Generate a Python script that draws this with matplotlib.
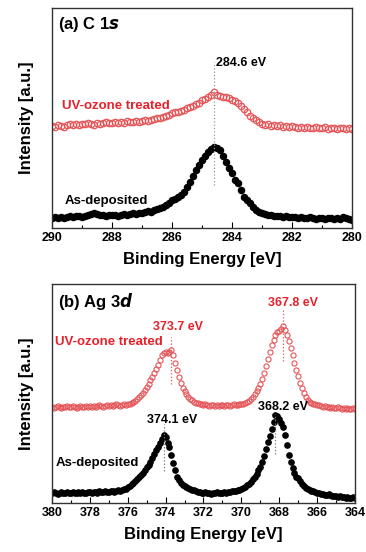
import numpy as np
import matplotlib.pyplot as plt
from matplotlib.ticker import MultipleLocator

plt.rcParams['font.family'] = ['Liberation Sans', 'DejaVu Sans']
plt.rcParams['font.weight'] = 'bold'

# (a) C 1s, binding energy 290.0 -> 280.0 eV, step 0.1
c1s_energy = np.round(np.arange(290.0, 279.95, -0.1), 1)
c1s_uv = [102, 101, 103, 102, 101, 103, 104, 103, 104, 103, 104,
          104, 105, 104, 103, 105, 104, 105, 106, 105, 105,
          106, 105, 106, 105, 107, 106, 106, 107, 106, 107,
          108, 107, 108, 109, 110, 110, 111, 112, 113, 115,
          116, 116, 117, 118, 120, 121, 122, 124, 125, 128,
          129, 131, 133, 136, 133, 132, 131, 131, 130, 128,
          127, 125, 122, 119, 116, 112, 110, 108, 106, 104,
          103, 104, 102, 103, 102, 103, 101, 102, 101, 102,
          101, 100, 101, 100, 101, 100, 100, 101, 100, 100,
          101, 99, 100, 100, 99, 100, 100, 99, 100, 99]
c1s_asdep = [10, 11, 10, 11, 10, 11, 12, 11, 12, 12, 11,
             12, 13, 14, 15, 14, 13, 13, 12, 13, 13,
             13, 12, 13, 14, 13, 14, 15, 14, 15, 15,
             16, 17, 16, 18, 19, 20, 21, 23, 25, 28,
             29, 31, 33, 36, 41, 46, 52, 58, 63, 68,
             72, 76, 79, 81, 80, 78, 72, 66, 60, 55,
             48, 45, 38, 31, 28, 25, 21, 18, 16, 15,
             14, 13, 13, 12, 12, 12, 11, 12, 11, 11,
             11, 10, 11, 10, 10, 11, 10, 9, 10, 10,
             9, 10, 10, 9, 10, 9, 11, 10, 9, 8]

# (b) Ag 3d, binding energy 380.0 -> 364.0 eV, step 0.1
ag_energy = np.round(np.arange(380.0, 363.95, -0.1), 1)
ag_uv = [96, 95, 96, 97, 96, 95, 96, 96, 97, 96,
         96, 97, 96, 95, 96, 97, 96, 96, 97, 96,
         97, 96, 97, 96, 97, 98, 97, 96, 97, 98,
         97, 98, 97, 98, 99, 98, 97, 98, 99, 98,
         99, 99, 100, 101, 102, 104, 106, 108, 110, 113,
         116, 119, 123, 126, 130, 134, 138, 143, 148, 150,
         151, 150, 151, 153, 148, 140, 133, 126, 120, 115,
         112, 109, 106, 104, 103, 101, 100, 100, 99, 99,
         98, 99, 98, 97, 98, 98, 97, 98, 97, 98,
         98, 97, 98, 98, 97, 98, 99, 98, 98, 99,
         99, 99, 100, 101, 102, 104, 106, 109, 112, 115,
         119, 124, 130, 137, 144, 151, 158, 163, 168, 171,
         172, 174, 177, 173, 168, 162, 155, 148, 140, 133,
         127, 120, 115, 110, 106, 103, 101, 100, 99, 99,
         98, 98, 97, 96, 97, 96, 96, 95, 96, 95,
         95, 96, 95, 94, 95, 94, 95, 94, 94, 95,
         94]
ag_asdep = [10, 11, 10, 9, 10, 11, 10, 10, 11, 10,
            10, 11, 10, 10, 11, 10, 11, 10, 10, 11,
            11, 10, 11, 11, 10, 12, 11, 11, 12, 11,
            11, 12, 12, 11, 12, 13, 12, 13, 14, 14,
            16, 17, 19, 20, 22, 24, 26, 28, 30, 33,
            36, 38, 41, 45, 49, 53, 56, 60, 64, 68,
            66, 60, 56, 48, 40, 33, 26, 23, 20, 18,
            17, 16, 15, 14, 13, 13, 12, 11, 11, 10,
            10, 11, 10, 10, 9, 10, 10, 11, 10, 10,
            10, 11, 10, 11, 11, 12, 12, 12, 13, 13,
            14, 15, 16, 18, 19, 21, 24, 26, 29, 33,
            36, 41, 47, 54, 61, 67, 74, 81, 88, 87,
            84, 80, 76, 68, 58, 48, 41, 35, 30, 26,
            25, 22, 19, 17, 15, 14, 13, 12, 12, 11,
            10, 10, 9, 9, 8, 8, 9, 8, 7, 7,
            7, 6, 7, 6, 6, 5, 6, 5, 5, 6,
            5]

RED_TXT = '#e8202a'
RED_MK = '#e55457'

fig = plt.figure(figsize=(3.66, 5.52), dpi=100)
ax1 = fig.add_axes([0.142, 0.587, 0.820, 0.399])
ax2 = fig.add_axes([0.142, 0.089, 0.828, 0.397])


def style(ax, xlim, ylim):
    ax.set_xlim(*xlim)
    ax.set_ylim(*ylim)
    ax.set_yticks([])
    ax.xaxis.set_major_locator(MultipleLocator(2))
    ax.xaxis.set_minor_locator(MultipleLocator(1))
    ax.tick_params(axis='x', which='major', direction='in', length=4, width=0.8,
                   labelsize=9, pad=3, top=False)
    ax.tick_params(axis='x', which='minor', direction='in', length=2.5, width=0.8, top=False)
    for t in ax.get_xticklabels():
        t.set_fontweight('bold')
    for s in ax.spines.values():
        s.set_linewidth(1.0)
        s.set_color('#333333')
    ax.set_xlabel('Binding Energy [eV]', fontsize=12, fontweight='bold', labelpad=6)
    ax.set_ylabel('Intensity [a.u.]', fontsize=12, fontweight='bold', labelpad=13)


# panel (a)
ax1.plot(c1s_energy, c1s_uv, 'o', ms=4.6, mfc='none', mec=RED_MK, mew=0.9)
ax1.plot(c1s_energy, c1s_asdep, 'o', ms=4.4, color='black')
ax1.plot([284.6, 284.6], [43, 166], ':', color='#999999', lw=0.9)
style(ax1, (290, 280), (0, 220))
ax1.text(289.8, 203, '(a) C 1$\\mathbfit{s}$', fontsize=12, fontweight='bold', va='center')
ax1.text(284.53, 165, '284.6 eV', fontsize=9, fontweight='bold', va='center')
ax1.text(289.67, 122, 'UV-ozone treated', fontsize=9.5, fontweight='bold', color=RED_TXT, va='center')
ax1.text(289.57, 27, 'As-deposited', fontsize=9.5, fontweight='bold', va='center')

# panel (b)
ax2.plot(ag_energy, ag_uv, 'o', ms=3.7, mfc='none', mec=RED_MK, mew=0.8)
ax2.plot(ag_energy, ag_asdep, 'o', ms=3.8, color='black')
ax2.plot([373.7, 373.7], [119, 166], ':', color=RED_MK, lw=0.9)
ax2.plot([367.8, 367.8], [142, 193], ':', color=RED_MK, lw=0.9)
ax2.plot([374.1, 374.1], [32, 79], ':', color='#777777', lw=0.9)
ax2.plot([368.2, 368.2], [49, 89], ':', color='#777777', lw=0.9)
style(ax2, (380, 364), (0, 219))
ax2.text(379.68, 201, '(b) Ag 3$\\mathbfit{d}$', fontsize=12, fontweight='bold', va='center')
ax2.text(368.61, 200, '367.8 eV', fontsize=9, fontweight='bold', color=RED_TXT, va='center')
ax2.text(374.65, 176, '373.7 eV', fontsize=9, fontweight='bold', color=RED_TXT, va='center')
ax2.text(379.84, 161, 'UV-ozone treated', fontsize=9.5, fontweight='bold', color=RED_TXT, va='center')
ax2.text(374.97, 83, '374.1 eV', fontsize=9, fontweight='bold', va='center')
ax2.text(369.14, 96, '368.2 eV', fontsize=9, fontweight='bold', va='center')
ax2.text(379.79, 40, 'As-deposited', fontsize=9.5, fontweight='bold', va='center')

fig.savefig('out.png', dpi=100)
